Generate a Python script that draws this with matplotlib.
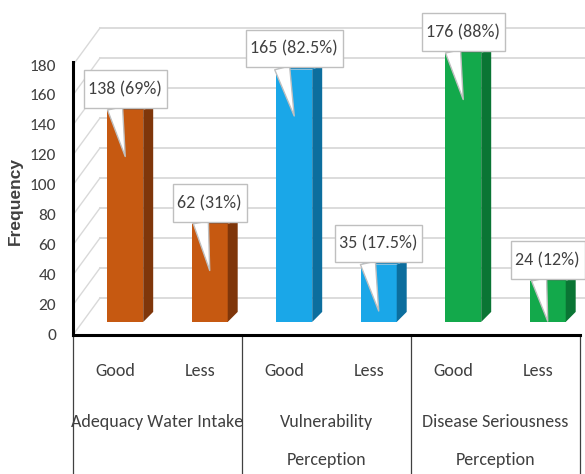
import matplotlib
matplotlib.use('Agg')
import matplotlib.pyplot as plt
from matplotlib.patches import Polygon
from matplotlib.path import Path

plt.rcParams['font.family'] = ['Carlito', 'DejaVu Sans']

groups = ['Adequacy Water Intake', 'Vulnerability\nPerception', 'Disease Seriousness\nPerception']
levels = ['Good', 'Less']
counts = [138, 62, 165, 35, 176, 24]
labels = ['138 (69%)', '62 (31%)', '165 (82.5%)', '35 (17.5%)', '176 (88%)', '24 (12%)']
yticks = [0, 20, 40, 60, 80, 100, 120, 140, 160, 180]

front_col = ['#c65911', '#1aa7e8', '#13a94b']
side_col = ['#7f360a', '#0c6e9e', '#0a7534']
top_col = ['#96420d', '#1183bd', '#0e8a3c']

# fake 3d: depth offsets in data units
DX, DY = 0.32, 24.7      # full depth of the walls
BX = 0.118               # bars sit a bit back
FLOOR, LIFT = 8.7, 12.0  # front face bottom / top lift
W = 0.426
SX, SB, ST = 0.118, 6.7, 2.7
TXT = '#404040'


def callout_box(x0, y0, width, height, mutation_size):
    # wider vertical padding than horizontal, like the excel callouts
    px, py = 0.25 * mutation_size, 0.6 * mutation_size
    x1, y1 = x0 + width + px, y0 + height + py
    x0, y0 = x0 - px, y0 - py
    return Path([(x0, y0), (x1, y0), (x1, y1), (x0, y1), (x0, y0)], closed=True)


fig = plt.figure(figsize=(5.85, 4.74), dpi=100)
ax = fig.add_axes([73 / 585, 139 / 474, 512 / 585, 335 / 474])
ax.set_xlim(-0.5, -0.5 + 512 / 84.5)
ax.set_ylim(0, 335 / 1.5)

for s in ['top', 'right']:
    ax.spines[s].set_visible(False)
ax.spines['left'].set_bounds(0, 182)
ax.spines['left'].set_linewidth(2.2)
ax.spines['bottom'].set_bounds(-0.5, 5.5)
ax.spines['bottom'].set_linewidth(2.2)

ax.set_yticks(yticks)
ax.tick_params(axis='y', length=0, pad=12, labelsize=12.5, labelcolor=TXT)
ax.set_xticks(range(6))
ax.set_xticklabels(levels * 3)
ax.tick_params(axis='x', length=0, pad=20, labelsize=13, labelcolor=TXT)

ax.set_ylabel('Frequency', fontsize=12.5, fontweight='bold', color=TXT,
              family='Liberation Sans')
ax.yaxis.set_label_coords(-0.098, 0.40)

# walls
xmax = ax.get_xlim()[1]
for v in yticks:
    ax.plot([-0.5 + DX, xmax], [v + DY, v + DY], color='#d9d9d9', lw=1.3, zorder=0)
    ax.plot([-0.5, -0.5 + DX], [v, v + DY], color='#d9d9d9', lw=1.0, zorder=0)

# bars
for i, v in enumerate(counts):
    c = i // 2
    xc = i + BX
    xl, xr = xc - W / 2, xc + W / 2
    t = v + LIFT
    ax.bar(xc, t - FLOOR, bottom=FLOOR, width=W, color=front_col[c], zorder=3)
    ax.add_patch(Polygon([(xr, FLOOR), (xr + SX, FLOOR + SB), (xr + SX, t + ST), (xr, t)],
                         closed=True, fc=side_col[c], ec='none', zorder=3))
    ax.add_patch(Polygon([(xl, t), (xr, t), (xr + SX, t + ST), (xl + SX, t + ST)],
                         closed=True, fc=top_col[c], ec='none', zorder=3))
    tip = max(t - 31, FLOOR + 0.5)
    ax.annotate(labels[i], xy=(xc, tip), xytext=(xc, t + 14),
                ha='center', va='center', fontsize=13, color=TXT, zorder=5,
                bbox=dict(boxstyle=callout_box, fc='white', ec='#bfbfbf', lw=1),
                arrowprops=dict(arrowstyle='wedge,tail_width=0.85,shrink_factor=0.5',
                                fc='white', ec='#bfbfbf', lw=1, relpos=(0.33, 0),
                                shrinkA=0, shrinkB=0))

# category table under the axis
for x in [-0.5, 1.5, 3.5, 5.5]:
    ax.plot([x, x], [0, -95], color='#404040', lw=0.9, clip_on=False)
for g, name in enumerate(groups):
    ax.text(2 * g + 0.5, -52.7, name, ha='center', va='top', fontsize=13,
            color=TXT, linespacing=2.66, clip_on=False)

fig.savefig('out.png', dpi=100)
